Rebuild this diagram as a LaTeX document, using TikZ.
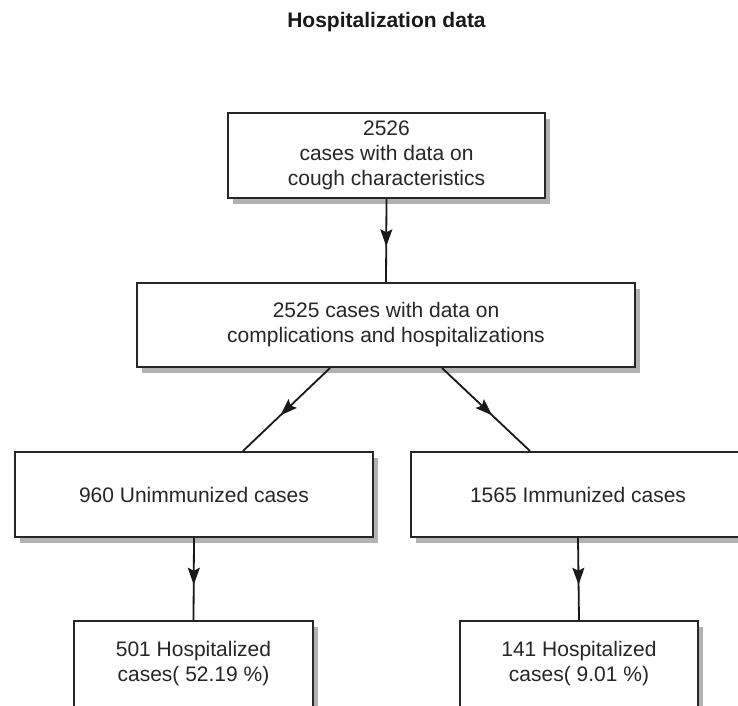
\documentclass[tikz,border=0pt]{standalone}
\usepackage{fontspec}
\setmainfont{Liberation Sans}
\usetikzlibrary{shadows,decorations.markings,arrows.meta}
\begin{document}
\begin{tikzpicture}[x=1pt,y=-1pt,
  box/.style={draw=black!85, line width=2pt, fill=white, align=center,
    inner sep=0pt, text=black!85, font=\fontsize{21}{25}\selectfont,
    general shadow={fill=black!30, shadow xshift=5pt, shadow yshift=-6pt}},
  flow/.style={line width=1.8pt, draw=black!90, postaction={decorate},
    decoration={markings, mark=at position 0.57 with {\arrow{Stealth[length=17pt,width=12pt,inset=3pt]}}}}]
\useasboundingbox (0,0) rectangle (738,705);
\fill[white] (0,0) rectangle (738,705);
\node[font=\bfseries\fontsize{21}{25}\selectfont, text=black!90] (title) at (386.5,22) {Hospitalization data};
\node[box, minimum width=317pt, minimum height=85pt] (b1) at (386.5,155.5) {2526\\cases with data on\\cough characteristics};
\node[box, minimum width=498pt, minimum height=84pt] (b2) at (386,325) {2525 cases with data on\\complications and hospitalizations};
\node[box, minimum width=358pt, minimum height=85pt] (b3) at (194,494.5) {960 Unimmunized cases};
\node[box, minimum width=334pt, minimum height=85pt] (b4) at (578,494.5) {1565 Immunized cases};
\node[box, minimum width=239pt, minimum height=86pt] (b5) at (193.5,664) {501 Hospitalized\\cases( 52.19 \%)};
\node[box, minimum width=238pt, minimum height=86pt] (b6) at (579,664) {141 Hospitalized\\cases( 9.01 \%)};
\draw[flow] (b1.south) -- (b2.north);
\draw[flow] ([xshift=-56pt]b2.south) -- ([xshift=49pt]b3.north);
\draw[flow] ([xshift=56pt]b2.south) -- ([xshift=-48pt]b4.north);
\draw[flow] (b3.south) -- (b5.north);
\draw[flow] (b4.south) -- (b6.north);
\end{tikzpicture}
\end{document}
